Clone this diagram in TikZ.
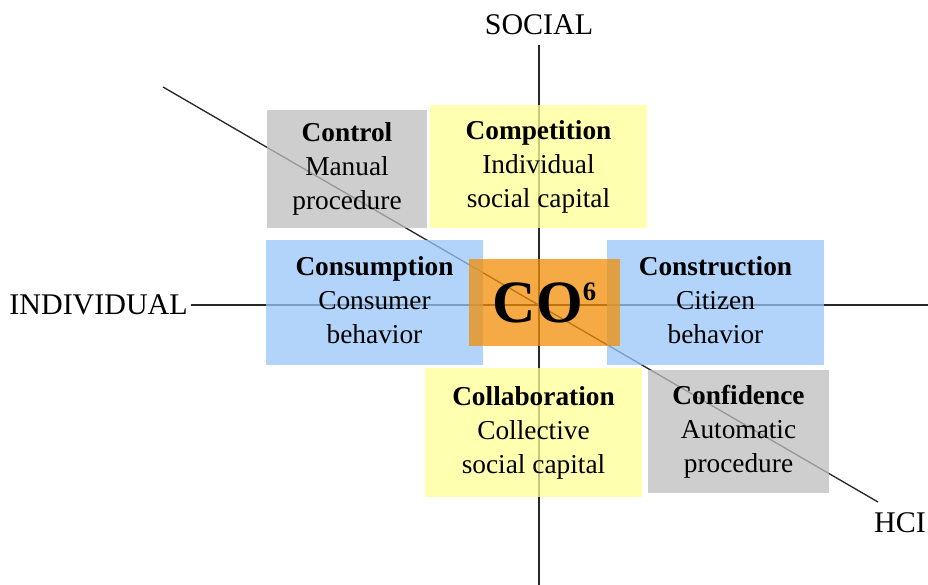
\documentclass[tikz,border=0pt]{standalone}
\usepackage{fontspec}
\setmainfont{Liberation Serif}
\begin{document}
\definecolor{boxblue}{RGB}{152,198,248}
\definecolor{boxyellow}{RGB}{255,255,150}
\definecolor{boxgray}{RGB}{190,190,190}
\definecolor{boxorange}{RGB}{242,142,8}
\definecolor{axisline}{RGB}{40,40,40}
\begin{tikzpicture}[x=0.75pt,y=-0.75pt,
  axis/.style={draw=axisline,line width=1pt},
  axislabel/.style={font=\fontsize{22.5}{27}\selectfont,inner sep=0pt},
  quad/.style={rectangle,inner sep=0pt,fill opacity=0.75,text opacity=1,
    align=center,font=\fontsize{20.5}{25.5}\selectfont},
  bluebox/.style={quad,fill=boxblue},
  yellowbox/.style={quad,fill=boxyellow},
  graybox/.style={quad,fill=boxgray},
  centrebox/.style={quad,fill=boxorange}]
\useasboundingbox (0,0) rectangle (928,585);

% axis labels
\node[axislabel] (social) at (539,25) {SOCIAL};
\node[axislabel,anchor=east] (individual) at (188,305) {INDIVIDUAL};
\node[axislabel] (hci) at (900,523) {HCI};

% axes
\coordinate (vtop) at (539,45);
\coordinate (vbot) at (539,585);
\coordinate (hright) at (928,305);
\coordinate (dstart) at (163,87);
\coordinate (dend) at (878,502);
\draw[axis] (vtop) -- (vbot);
\draw[axis] (individual.east) ++(3,0) -- (hright);
\draw[axis] (dstart) -- (dend);

% quadrant boxes
\node[graybox,minimum width=160*0.75pt,minimum height=118*0.75pt] (control) at (347,169)
  {\textbf{Control}\\Manual\\procedure};
\node[yellowbox,minimum width=217*0.75pt,minimum height=123*0.75pt] (competition) at (538.5,166.5)
  {\textbf{Competition}\\Individual\\social capital};
\node[bluebox,minimum width=217*0.75pt,minimum height=125*0.75pt] (consumption) at (374.5,302.5)
  {\textbf{Consumption}\\Consumer\\behavior\rule[-4pt]{0pt}{0pt}};
\node[bluebox,minimum width=217*0.75pt,minimum height=125*0.75pt] (construction) at (715.5,302.5)
  {\textbf{Construction}\\Citizen\\behavior\rule[-4pt]{0pt}{0pt}};
\node[yellowbox,minimum width=217*0.75pt,minimum height=129*0.75pt] (collaboration) at (533.5,432.5)
  {\textbf{Collaboration}\\Collective\\social capital\rule[-3pt]{0pt}{0pt}};
\node[graybox,minimum width=181*0.75pt,minimum height=123*0.75pt] (confidence) at (738.5,431.5)
  {\textbf{Confidence}\\Automatic\\procedure};

% centre box
\node[centrebox,minimum width=151*0.75pt,minimum height=87*0.75pt,
  font=\fontsize{45}{50}\selectfont\bfseries] (core) at (544.5,302.5)
  {CO\raisebox{16pt}{\fontsize{20}{22}\selectfont 6}};
\end{tikzpicture}
\end{document}
